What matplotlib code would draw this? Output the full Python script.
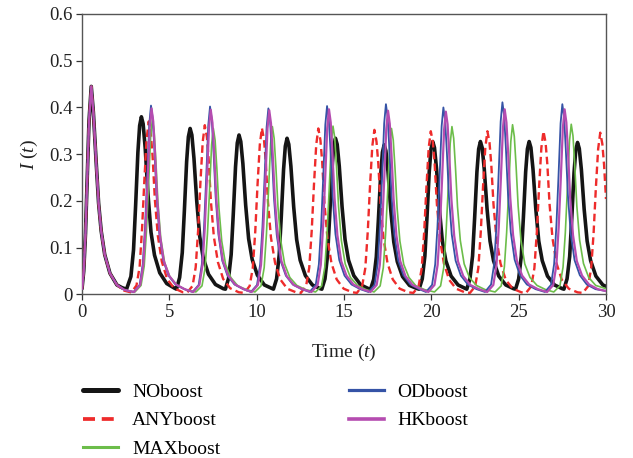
import matplotlib
matplotlib.use("Agg")
import matplotlib.pyplot as plt
from matplotlib.ticker import FixedLocator, FixedFormatter

plt.rcParams['font.family'] = ['Liberation Serif', 'DejaVu Serif']
plt.rcParams['mathtext.fontset'] = 'custom'
plt.rcParams['mathtext.rm'] = 'Liberation Serif'
plt.rcParams['mathtext.it'] = 'Liberation Serif:italic'

# ---- data ----
series_names = ["NOboost", "ANYboost", "MAXboost", "ODboost", "HKboost"]

# first outbreak, identical for all strategies
t_start = [0, 0.1, 0.2, 0.3, 0.4, 0.53, 0.65, 0.8, 0.95, 1.1, 1.3, 1.6, 2.0]
i_start = [0.012, 0.05, 0.13, 0.25, 0.37, 0.445, 0.39, 0.29, 0.195, 0.135, 0.085, 0.045, 0.02]

t_no = [2.3, 2.55,
        2.80, 2.95, 3.07, 3.20, 3.30, 3.40, 3.50, 3.62, 3.78, 3.95, 4.15, 4.45, 4.85, 5.30, 5.41,
        5.59, 5.74, 5.86, 5.99, 6.09, 6.19, 6.29, 6.41, 6.57, 6.74, 6.94, 7.24, 7.64, 8.09, 8.21,
        8.39, 8.54, 8.66, 8.79, 8.89, 8.99, 9.09, 9.21, 9.37, 9.54, 9.74, 10.04, 10.44, 10.89, 10.96,
        11.14, 11.29, 11.41, 11.54, 11.64, 11.74, 11.84, 11.96, 12.12, 12.29, 12.49, 12.79, 13.19, 13.64, 13.73,
        13.91, 14.06, 14.18, 14.31, 14.41, 14.51, 14.61, 14.73, 14.89, 15.06, 15.26, 15.56, 15.96, 16.41, 16.52,
        16.7, 16.85, 16.97, 17.1, 17.2, 17.3, 17.4, 17.52, 17.68, 17.85, 18.05, 18.35, 18.75, 19.2, 19.3,
        19.48, 19.63, 19.75, 19.88, 19.98, 20.08, 20.18, 20.3, 20.46, 20.63, 20.83, 21.13, 21.53, 21.98, 22.03,
        22.21, 22.36, 22.48, 22.61, 22.71, 22.81, 22.91, 23.03, 23.19, 23.36, 23.56, 23.86, 24.26, 24.71, 24.82,
        25.0, 25.15, 25.27, 25.4, 25.5, 25.6, 25.7, 25.82, 25.98, 26.15, 26.35, 26.65, 27.05, 27.5, 27.59,
        27.77, 27.92, 28.04, 28.17, 28.27, 28.37, 28.47, 28.59, 28.75, 28.92, 29.12, 29.42, 29.82, 30.0]
i_no = [0.014, 0.011,
        0.038, 0.095, 0.190, 0.304, 0.361, 0.380, 0.365, 0.312, 0.213, 0.133, 0.084, 0.046, 0.023, 0.013, 0.011,
        0.036, 0.089, 0.178, 0.284, 0.337, 0.355, 0.341, 0.291, 0.199, 0.124, 0.078, 0.043, 0.021, 0.012, 0.011,
        0.034, 0.085, 0.171, 0.273, 0.324, 0.341, 0.327, 0.280, 0.191, 0.119, 0.075, 0.041, 0.020, 0.012, 0.011,
        0.033, 0.084, 0.167, 0.267, 0.317, 0.334, 0.321, 0.274, 0.187, 0.117, 0.073, 0.040, 0.020, 0.012, 0.011,
        0.033, 0.084, 0.167, 0.267, 0.317, 0.334, 0.321, 0.274, 0.187, 0.117, 0.073, 0.040, 0.020, 0.012, 0.011,
        0.032, 0.080, 0.160, 0.256, 0.304, 0.320, 0.307, 0.262, 0.179, 0.112, 0.070, 0.038, 0.019, 0.012, 0.011,
        0.033, 0.082, 0.164, 0.262, 0.311, 0.327, 0.314, 0.268, 0.183, 0.114, 0.072, 0.039, 0.020, 0.012, 0.011,
        0.033, 0.082, 0.164, 0.262, 0.311, 0.327, 0.314, 0.268, 0.183, 0.114, 0.072, 0.039, 0.020, 0.012, 0.011,
        0.033, 0.082, 0.164, 0.262, 0.311, 0.327, 0.314, 0.268, 0.183, 0.114, 0.072, 0.039, 0.020, 0.012, 0.011,
        0.033, 0.081, 0.163, 0.260, 0.309, 0.325, 0.312, 0.267, 0.182, 0.114, 0.072, 0.039, 0.020, 0.017]

t_any = [2.4, 2.82,
         3.12, 3.30, 3.44, 3.57, 3.70, 3.82, 3.94, 4.04, 4.17, 4.34, 4.57, 4.87, 5.27, 5.77, 6.03,
         6.33, 6.51, 6.65, 6.78, 6.91, 7.03, 7.15, 7.25, 7.38, 7.55, 7.78, 8.08, 8.48, 8.98, 9.3,
         9.6, 9.78, 9.92, 10.05, 10.18, 10.3, 10.42, 10.52, 10.65, 10.82, 11.05, 11.35, 11.75, 12.25, 12.53,
         12.83, 13.01, 13.15, 13.28, 13.41, 13.53, 13.65, 13.75, 13.88, 14.05, 14.28, 14.58, 14.98, 15.48, 15.74,
         16.04, 16.22, 16.36, 16.49, 16.62, 16.74, 16.86, 16.96, 17.09, 17.26, 17.49, 17.79, 18.19, 18.69, 18.97,
         19.27, 19.45, 19.59, 19.72, 19.85, 19.97, 20.09, 20.19, 20.32, 20.49, 20.72, 21.02, 21.42, 21.92, 22.21,
         22.51, 22.69, 22.83, 22.96, 23.09, 23.21, 23.33, 23.43, 23.56, 23.73, 23.96, 24.26, 24.66, 25.16, 25.42,
         25.72, 25.9, 26.04, 26.17, 26.3, 26.42, 26.54, 26.64, 26.77, 26.94, 27.17, 27.47, 27.87, 28.37, 28.67,
         28.97, 29.15, 29.29, 29.42, 29.55, 29.67, 29.79, 29.89, 30.0]
i_any = [0.008, 0.004,
         0.019, 0.059, 0.141, 0.244, 0.333, 0.370, 0.344, 0.296, 0.204, 0.126, 0.070, 0.033, 0.013, 0.0044, 0.004,
         0.018, 0.058, 0.138, 0.239, 0.326, 0.362, 0.337, 0.290, 0.199, 0.123, 0.069, 0.033, 0.013, 0.0043, 0.003,
         0.018, 0.057, 0.135, 0.235, 0.320, 0.356, 0.331, 0.285, 0.196, 0.121, 0.068, 0.032, 0.012, 0.0043, 0.003,
         0.018, 0.057, 0.135, 0.234, 0.320, 0.355, 0.330, 0.284, 0.195, 0.121, 0.067, 0.032, 0.012, 0.0043, 0.003,
         0.018, 0.056, 0.134, 0.232, 0.317, 0.352, 0.327, 0.282, 0.194, 0.120, 0.067, 0.032, 0.012, 0.0042, 0.003,
         0.017, 0.056, 0.133, 0.230, 0.314, 0.349, 0.325, 0.279, 0.192, 0.119, 0.066, 0.031, 0.012, 0.0042, 0.003,
         0.017, 0.056, 0.133, 0.230, 0.314, 0.349, 0.325, 0.279, 0.192, 0.119, 0.066, 0.031, 0.012, 0.0042, 0.003,
         0.017, 0.056, 0.133, 0.230, 0.314, 0.349, 0.325, 0.279, 0.192, 0.119, 0.066, 0.031, 0.012, 0.0042, 0.003,
         0.017, 0.055, 0.131, 0.228, 0.311, 0.346, 0.322, 0.277, 0.204]

t_max = [2.4, 2.7,
         3.03, 3.38, 3.56, 3.69, 3.81, 3.93, 4.03, 4.13, 4.23, 4.35, 4.51, 4.73, 5.03, 5.43, 5.93,
         6.52, 6.87, 7.05, 7.18, 7.30, 7.42, 7.52, 7.62, 7.72, 7.84, 8.00, 8.22, 8.52, 8.92, 9.42,
         9.9, 10.25, 10.43, 10.56, 10.68, 10.8, 10.9, 11.0, 11.1, 11.22, 11.38, 11.6, 11.9, 12.3, 12.8,
         13.37, 13.72, 13.9, 14.03, 14.15, 14.27, 14.37, 14.47, 14.57, 14.69, 14.85, 15.07, 15.37, 15.77, 16.27,
         16.72, 17.07, 17.25, 17.38, 17.5, 17.62, 17.72, 17.82, 17.92, 18.04, 18.2, 18.42, 18.72, 19.12, 19.62,
         20.18, 20.53, 20.71, 20.84, 20.96, 21.08, 21.18, 21.28, 21.38, 21.5, 21.66, 21.88, 22.18, 22.58, 23.08,
         23.65, 24.0, 24.18, 24.31, 24.43, 24.55, 24.65, 24.75, 24.85, 24.97, 25.13, 25.35, 25.65, 26.05, 26.55,
         27.01, 27.36, 27.54, 27.67, 27.79, 27.91, 28.01, 28.11, 28.21, 28.33, 28.49, 28.71, 29.01, 29.41, 30.0]
i_max = [0.010, 0.007,
         0.005, 0.019, 0.060, 0.135, 0.233, 0.338, 0.375, 0.349, 0.285, 0.195, 0.120, 0.068, 0.038, 0.020, 0.010,
         0.005, 0.018, 0.057, 0.128, 0.220, 0.320, 0.355, 0.330, 0.270, 0.185, 0.114, 0.064, 0.036, 0.018, 0.010,
         0.005, 0.018, 0.057, 0.129, 0.223, 0.323, 0.359, 0.334, 0.273, 0.187, 0.115, 0.065, 0.036, 0.019, 0.010,
         0.005, 0.018, 0.058, 0.130, 0.223, 0.324, 0.360, 0.335, 0.274, 0.187, 0.115, 0.065, 0.036, 0.019, 0.010,
         0.005, 0.018, 0.057, 0.128, 0.220, 0.320, 0.355, 0.330, 0.270, 0.185, 0.114, 0.064, 0.036, 0.018, 0.010,
         0.005, 0.018, 0.057, 0.129, 0.223, 0.323, 0.359, 0.334, 0.273, 0.187, 0.115, 0.065, 0.036, 0.019, 0.010,
         0.005, 0.018, 0.058, 0.131, 0.225, 0.327, 0.363, 0.338, 0.276, 0.189, 0.116, 0.065, 0.036, 0.019, 0.010,
         0.005, 0.018, 0.058, 0.131, 0.226, 0.328, 0.364, 0.339, 0.277, 0.189, 0.116, 0.066, 0.036, 0.019, 0.012]

t_od = [2.4, 2.7,
        2.95, 3.30, 3.48, 3.61, 3.73, 3.85, 3.95, 4.05, 4.15, 4.27, 4.43, 4.65, 4.95, 5.35, 5.85,
        6.33, 6.68, 6.86, 6.99, 7.11, 7.23, 7.33, 7.43, 7.53, 7.65, 7.81, 8.03, 8.33, 8.73, 9.23,
        9.67, 10.02, 10.2, 10.33, 10.45, 10.57, 10.67, 10.77, 10.87, 10.99, 11.15, 11.37, 11.67, 12.07, 12.57,
        13.03, 13.38, 13.56, 13.69, 13.81, 13.93, 14.03, 14.13, 14.23, 14.35, 14.51, 14.73, 15.03, 15.43, 15.93,
        16.4, 16.75, 16.93, 17.06, 17.18, 17.3, 17.4, 17.5, 17.6, 17.72, 17.88, 18.1, 18.4, 18.8, 19.3,
        19.69, 20.04, 20.22, 20.35, 20.47, 20.59, 20.69, 20.79, 20.89, 21.01, 21.17, 21.39, 21.69, 22.09, 22.59,
        23.07, 23.42, 23.6, 23.73, 23.85, 23.97, 24.07, 24.17, 24.27, 24.39, 24.55, 24.77, 25.07, 25.47, 25.97,
        26.5, 26.85, 27.03, 27.16, 27.28, 27.4, 27.5, 27.6, 27.7, 27.82, 27.98, 28.2, 28.5, 28.9, 29.4, 30.0]
i_od = [0.010, 0.007,
        0.005, 0.020, 0.065, 0.145, 0.250, 0.364, 0.404, 0.376, 0.307, 0.210, 0.129, 0.073, 0.040, 0.021, 0.011,
        0.005, 0.020, 0.064, 0.145, 0.249, 0.362, 0.402, 0.374, 0.306, 0.209, 0.129, 0.072, 0.040, 0.021, 0.011,
        0.005, 0.020, 0.064, 0.143, 0.247, 0.358, 0.398, 0.370, 0.302, 0.207, 0.127, 0.072, 0.040, 0.021, 0.011,
        0.005, 0.020, 0.064, 0.145, 0.250, 0.363, 0.403, 0.375, 0.306, 0.210, 0.129, 0.073, 0.040, 0.021, 0.011,
        0.005, 0.020, 0.065, 0.147, 0.252, 0.366, 0.407, 0.379, 0.309, 0.212, 0.130, 0.073, 0.041, 0.021, 0.011,
        0.005, 0.020, 0.064, 0.144, 0.248, 0.360, 0.400, 0.372, 0.304, 0.208, 0.128, 0.072, 0.040, 0.021, 0.011,
        0.005, 0.021, 0.066, 0.148, 0.255, 0.370, 0.411, 0.382, 0.312, 0.214, 0.132, 0.074, 0.041, 0.021, 0.011,
        0.005, 0.020, 0.065, 0.147, 0.252, 0.366, 0.407, 0.379, 0.309, 0.212, 0.130, 0.073, 0.041, 0.021, 0.011, 0.007]

t_hk = [2.4, 2.7,
        2.98, 3.33, 3.51, 3.64, 3.76, 3.88, 3.98, 4.08, 4.18, 4.30, 4.46, 4.68, 4.98, 5.38, 5.88,
        6.37, 6.72, 6.9, 7.03, 7.15, 7.27, 7.37, 7.47, 7.57, 7.69, 7.85, 8.07, 8.37, 8.77, 9.27,
        9.72, 10.07, 10.25, 10.38, 10.5, 10.62, 10.72, 10.82, 10.92, 11.04, 11.2, 11.42, 11.72, 12.12, 12.62,
        13.14, 13.49, 13.67, 13.8, 13.92, 14.04, 14.14, 14.24, 14.34, 14.46, 14.62, 14.84, 15.14, 15.54, 16.04,
        16.52, 16.87, 17.05, 17.18, 17.3, 17.42, 17.52, 17.62, 17.72, 17.84, 18.0, 18.22, 18.52, 18.92, 19.42,
        19.83, 20.18, 20.36, 20.49, 20.61, 20.73, 20.83, 20.93, 21.03, 21.15, 21.31, 21.53, 21.83, 22.23, 22.73,
        23.2, 23.55, 23.73, 23.86, 23.98, 24.1, 24.2, 24.3, 24.4, 24.52, 24.68, 24.9, 25.2, 25.6, 26.1,
        26.63, 26.98, 27.16, 27.29, 27.41, 27.53, 27.63, 27.73, 27.83, 27.95, 28.11, 28.33, 28.63, 29.03, 29.53, 30.0]
i_hk = [0.010, 0.007,
        0.005, 0.020, 0.064, 0.143, 0.247, 0.358, 0.398, 0.370, 0.302, 0.207, 0.127, 0.072, 0.040, 0.021, 0.011,
        0.005, 0.020, 0.063, 0.142, 0.245, 0.356, 0.395, 0.367, 0.300, 0.205, 0.126, 0.071, 0.040, 0.021, 0.011,
        0.005, 0.020, 0.063, 0.142, 0.244, 0.355, 0.394, 0.366, 0.299, 0.205, 0.126, 0.071, 0.039, 0.020, 0.011,
        0.005, 0.020, 0.063, 0.143, 0.246, 0.356, 0.396, 0.368, 0.301, 0.206, 0.127, 0.071, 0.040, 0.021, 0.011,
        0.005, 0.020, 0.063, 0.141, 0.244, 0.354, 0.393, 0.365, 0.299, 0.204, 0.126, 0.071, 0.039, 0.020, 0.011,
        0.005, 0.020, 0.063, 0.141, 0.242, 0.352, 0.391, 0.364, 0.297, 0.203, 0.125, 0.070, 0.039, 0.020, 0.011,
        0.005, 0.020, 0.063, 0.143, 0.246, 0.356, 0.396, 0.368, 0.301, 0.206, 0.127, 0.071, 0.040, 0.021, 0.011,
        0.005, 0.020, 0.063, 0.143, 0.246, 0.356, 0.396, 0.368, 0.301, 0.206, 0.127, 0.071, 0.040, 0.021, 0.011, 0.007]

x_ticks = [0, 5, 10, 15, 20, 25, 30]
x_tick_labels = ["0", "5", "10", "15", "20", "25", "30"]
y_ticks = [0, 0.1, 0.2, 0.3, 0.4, 0.5, 0.6]
y_tick_labels = ["0", "0.1", "0.2", "0.3", "0.4", "0.5", "0.6"]

# ---- figure ----
fig = plt.figure(figsize=(6.33, 4.58), dpi=100)
ax = fig.add_axes([82 / 633, 1 - 294.3 / 458, 524 / 633, 280.3 / 458])

ax.plot(t_start + t_no, i_start + i_no, color="#151515", lw=2.6, label=series_names[0],
        solid_joinstyle="round", solid_capstyle="round", zorder=2)
ax.plot(t_start + t_any, i_start + i_any, color="#ee2b2b", lw=1.7, ls=(0, (3.2, 1.8)),
        label=series_names[1], zorder=3)
ax.plot(t_start + t_max, i_start + i_max, color="#6cbd4a", lw=1.2, label=series_names[2],
        solid_joinstyle="round", zorder=4)
ax.plot(t_start + t_od, i_start + i_od, color="#3553a6", lw=1.3, label=series_names[3],
        solid_joinstyle="round", zorder=5)
ax.plot(t_start + t_hk, i_start + i_hk, color="#b54cb0", lw=1.6, label=series_names[4],
        solid_joinstyle="round", zorder=6)

ax.set_xlim(0, 30)
ax.set_ylim(0, 0.6)
ax.xaxis.set_major_locator(FixedLocator(x_ticks))
ax.xaxis.set_major_formatter(FixedFormatter(x_tick_labels))
ax.yaxis.set_major_locator(FixedLocator(y_ticks))
ax.yaxis.set_major_formatter(FixedFormatter(y_tick_labels))
ax.tick_params(axis="both", direction="out", length=4, width=0.9, colors="#333333",
               labelsize=13.5, labelcolor="#222222")
ax.tick_params(axis="x", pad=3)
ax.tick_params(axis="y", pad=3)
for s in ax.spines.values():
    s.set_color("#555555")
    s.set_linewidth(1.0)

ax.set_xlabel(r"Time $(t)$", fontsize=14, color="#222222", labelpad=15)
ax.set_ylabel(r"$I\ (t)$", fontsize=14, color="#222222", labelpad=6)

handles, labels = ax.get_legend_handles_labels()
leg = fig.legend(handles, labels,
                 loc="upper left", bbox_to_anchor=(83 / 633, 1 - 383 / 458),
                 ncol=2, frameon=False, fontsize=14, borderpad=0, borderaxespad=0,
                 handlelength=1.8, handletextpad=0.72, columnspacing=6.6,
                 labelspacing=0.57)
for line in leg.get_lines():
    line.set_linewidth(line.get_linewidth() + 1.0)

fig.savefig("out.png", dpi=100)
